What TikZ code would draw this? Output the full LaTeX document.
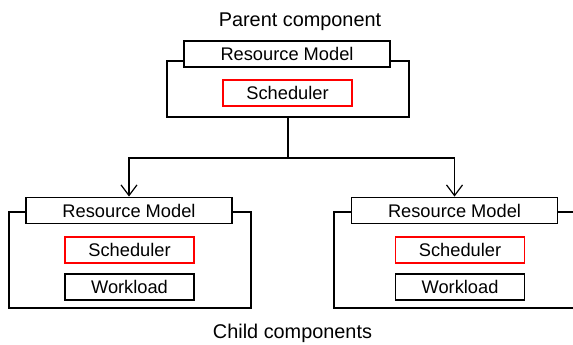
\documentclass[tikz,border=0pt]{standalone}
\usepackage{fontspec}
\setmainfont{Liberation Sans}
\usetikzlibrary{arrows.meta}

\tikzset{
  box/.style={draw, fill=white, line width=0.9pt, inner sep=0pt, minimum height=19.5pt},
  rmbox/.style={box, minimum width=154.5pt},
  innerbox/.style={box, minimum width=96.75pt},
  schedbox/.style={innerbox, draw=red},
  frame/.style={draw, line width=0.9pt, inner sep=0pt, minimum width=181.5pt},
  caption/.style={font=\fontsize{14.9}{17}\selectfont},
  link/.style={line width=0.9pt, -{Straight Barb[length=8pt,width=12pt,line width=0.9pt]}}
}

\begin{document}
\begin{tikzpicture}[x=0.75pt,y=0.75pt,font=\fontsize{13.7}{16}\selectfont]
  \useasboundingbox (0,0) rectangle (573,344);
  \clip (0,0) rectangle (573,344);
  \node[caption] (ptitle) at (300,322.5) {Parent component};
  \node[frame, minimum height=42pt] (pframe) at (288,255) {};
  \node[rmbox] (prm) at (287,290) {Resource Model};
  \node[schedbox] (psched) at (287.5,251) {Scheduler};
  \coordinate (split) at (288,186);
  \node[frame, minimum height=72pt] (lframe) at (130,84) {};
  \node[rmbox, minimum height=20pt] (lrm) at (129,133.5) {Resource Model};
  \node[schedbox] (lsched) at (129.5,94) {Scheduler};
  \node[innerbox] (lwork) at (129.5,57) {Workload};
  \node[frame, minimum height=72pt] (rframe) at (455,84) {};
  \node[rmbox, minimum height=20pt] (rrm) at (454.5,133.5) {Resource Model};
  \node[schedbox] (rsched) at (460,94) {Scheduler};
  \node[innerbox] (rwork) at (460,57) {Workload};
  \node[caption] (ctitle) at (292.5,10.5) {Child components};
  \draw[line width=0.9pt] (pframe.south) -- (split);
  \draw[link] (split) -| (lrm.north);
  \draw[link] (split) -| (rrm.north);
\end{tikzpicture}
\end{document}
